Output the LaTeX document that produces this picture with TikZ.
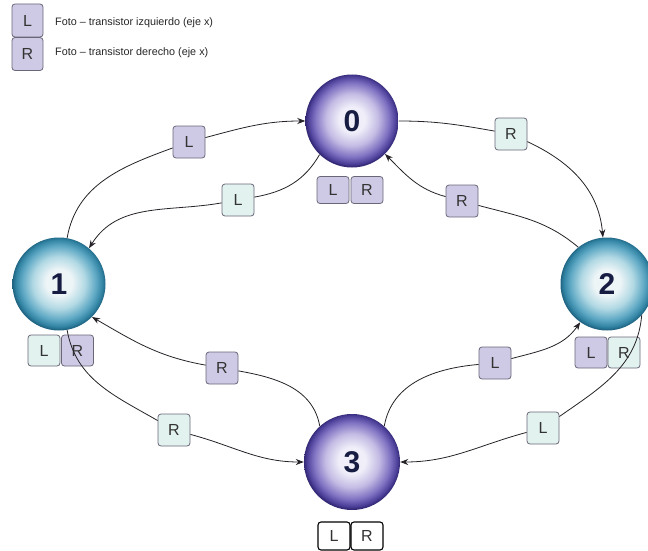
\documentclass[tikz,border=0pt]{standalone}
\usepackage{fontspec}
\setmainfont{Liberation Sans}
\usetikzlibrary{arrows.meta}

% palette
\definecolor{lav}{RGB}{206,202,229}
\definecolor{mint}{RGB}{226,243,239}
\definecolor{boxline}{RGB}{105,102,120}
\definecolor{wire}{RGB}{38,34,40}
\definecolor{digit}{RGB}{22,28,66}
% violet sphere
\definecolor{vA}{RGB}{240,238,249}
\definecolor{vB}{RGB}{196,188,228}
\definecolor{vC}{RGB}{128,114,194}
\definecolor{vD}{RGB}{76,64,154}
\definecolor{vE}{RGB}{50,40,116}
% teal sphere
\definecolor{tA}{RGB}{238,245,247}
\definecolor{tB}{RGB}{178,217,228}
\definecolor{tC}{RGB}{94,168,196}
\definecolor{tD}{RGB}{48,130,162}
\definecolor{tE}{RGB}{32,100,130}

\pgfdeclareradialshading{violetball}{\pgfpoint{0bp}{1bp}}{%
  color(0bp)=(vA); color(7bp)=(vA); color(14bp)=(vB); color(20bp)=(vC);
  color(23.5bp)=(vD); color(25bp)=(vE); color(50bp)=(vE)}
\pgfdeclareradialshading{tealball}{\pgfpoint{0bp}{1bp}}{%
  color(0bp)=(tA); color(7bp)=(tA); color(14bp)=(tB); color(20bp)=(tC);
  color(23.5bp)=(tD); color(25bp)=(tE); color(50bp)=(tE)}

\tikzset{
  sphere/.style={circle, inner sep=0pt, minimum size=93pt,
    font=\fontsize{30}{30}\selectfont\bfseries, text=digit},
  tag/.style={draw=boxline, line width=0.8pt, rounded corners=3pt,
    minimum width=32pt, minimum height=31pt, inner sep=0pt,
    font=\fontsize{16}{16}\selectfont, text=black!80},
  lavtag/.style={tag, fill=lav},
  minttag/.style={tag, fill=mint},
  plaintag/.style={tag, fill=white, draw=black, line width=1.1pt},
  link/.style={draw=wire, line width=0.8pt, -{Stealth[length=8pt,width=6pt]}},
  keytext/.style={anchor=west, inner sep=0pt,
    font=\fontsize{10.8}{12}\selectfont, text=black!85},
}

\begin{document}
\begin{tikzpicture}[x=1pt,y=1pt]
\useasboundingbox (0,0) rectangle (648,-551);

% legend
\node[lavtag, minimum width=31pt, minimum height=33pt] (keyL) at (27.5,-20.5) {L};
\node[lavtag, minimum width=31pt, minimum height=33pt] (keyR) at (27.5,-54) {R};
\node[keytext] (keyLtext) at (55,-23) {Foto – transistor izquierdo (eje x)};
\node[keytext] (keyRtext) at (55,-53) {Foto – transistor derecho (eje x)};

% states
\node[sphere, shading=violetball] (n0) at (352,-121) {0};
\node[sphere, shading=tealball]   (n1) at (59,-284)  {1};
\node[sphere, shading=tealball]   (n2) at (607,-284) {2};
\node[sphere, shading=violetball, minimum size=96pt] (n3) at (352,-462) {3};

% sensor readings under each state
\node[lavtag, minimum height=27pt] (l0L) at (333,-190) {L};
\node[lavtag, minimum height=27pt] (l0R) at (367,-190) {R};
\node[minttag] (l1L) at (44,-350.5) {L};
\node[lavtag]  (l1R) at (77.5,-350.5) {R};
\node[lavtag]  (l2L) at (591,-352.5) {L};
\node[minttag] (l2R) at (624,-352.5) {R};
\node[plaintag, minimum height=28pt] (l3L) at (334,-536) {L};
\node[plaintag, minimum height=28pt] (l3R) at (367,-536) {R};

% transition labels
\node[lavtag,  minimum height=32pt] (e10) at (189,-142) {L};
\node[minttag, minimum height=32pt] (e01) at (238,-200) {L};
\node[minttag, minimum height=32pt] (e02) at (511,-134) {R};
\node[lavtag,  minimum height=32pt] (e20) at (462,-201) {R};
\node[lavtag,  minimum height=32pt] (e31) at (222,-368) {R};
\node[minttag, minimum height=32pt] (e13) at (174,-430) {R};
\node[lavtag,  minimum height=32pt] (e32) at (495,-363) {L};
\node[minttag, minimum height=32pt] (e23) at (543,-428) {L};

% transitions
\draw[link] (n1) to[out=80,in=200] (e10) to[out=15,in=180] (n0);
\draw[link] (n0.226) to[out=240,in=10] (e01) to[out=190,in=58] (n1.50);
\draw[link] (n0) to[out=0,in=170] (e02) to[out=-25,in=95] (n2.95);
\draw[link] (n2.128) to[out=140,in=-15] (e20) to[out=165,in=-45] (n0.-45);
\draw[link] (n3.132) to[out=100,in=-10] (e31) to[out=170,in=-30] (n1.-45);
\draw[link] (n1) to[out=-80,in=150] (e13) to[out=-15,in=180] (n3);
\draw[link] (n3.48) to[out=80,in=185] (e32) to[out=15,in=235] (n2.235);
\draw[link] (n2.-42) to[out=-95,in=35] (e23) to[out=195,in=0] (n3);
\end{tikzpicture}
\end{document}
